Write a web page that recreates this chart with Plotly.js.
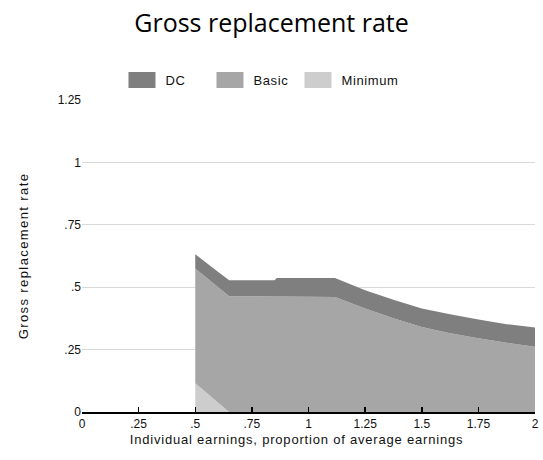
<!DOCTYPE html>
<html>
<head>
<meta charset="utf-8">
<script src="https://cdn.plot.ly/plotly-3.0.1.min.js"></script>
<style>
html,body{margin:0;padding:0;background:#fff;}#chart{width:543px;height:460px;}
#chart .ytitle{letter-spacing:1.4px;}
#chart .xtitle{letter-spacing:0.8px;}
#chart .legendtext{letter-spacing:0.6px;}
</style>
</head>
<body>
<div id="chart"></div>
<script>
// Individual earnings, proportion of average earnings
var earnings = [0.5, 0.55, 0.6, 0.65, 0.75, 0.85, 0.86, 1.0, 1.117, 1.25, 1.375, 1.5, 1.625, 1.75, 1.875, 2.0];
// Stacked components of the gross replacement rate
var minimumRate = [0.115, 0.077, 0.038, 0, 0, 0, 0, 0, 0, 0, 0, 0, 0, 0, 0, 0];
var basicRate   = [0.460, 0.461, 0.463, 0.464, 0.464, 0.463, 0.463, 0.462, 0.461, 0.415, 0.376, 0.341, 0.316, 0.295, 0.277, 0.261];
var dcRate      = [0.057, 0.059, 0.061, 0.064, 0.064, 0.065, 0.074, 0.075, 0.076, 0.073, 0.074, 0.074, 0.076, 0.076, 0.075, 0.078];

var xTickVals = [0, 0.25, 0.5, 0.75, 1, 1.25, 1.5, 1.75, 2];
var xTickText = ["0", ".25", ".5", ".75", "1", "1.25", "1.5", "1.75", "2"];
var yTickVals = [0, 0.25, 0.5, 0.75, 1, 1.25];
var yTickText = ["0", ".25", ".5", ".75", "1", "1.25"];

var tickFont = {family: "Liberation Sans, Arial, sans-serif", size: 12, color: "#111"};

var traces = [
  {x: earnings, y: minimumRate, name: "Minimum", type: "scatter", mode: "none", stackgroup: "one",
   fillcolor: "#cdcdcd", line: {width: 0}, hoverinfo: "x+y+name"},
  {x: earnings, y: basicRate, name: "Basic", type: "scatter", mode: "none", stackgroup: "one",
   fillcolor: "#a6a6a6", line: {width: 0}, hoverinfo: "x+y+name"},
  {x: earnings, y: dcRate, name: "DC", type: "scatter", mode: "none", stackgroup: "one",
   fillcolor: "#7f7f7f", line: {width: 0}, hoverinfo: "x+y+name"}
];

var layout = {
  width: 543, height: 460,
  margin: {l: 82, r: 8, t: 100, b: 48},
  paper_bgcolor: "#fff", plot_bgcolor: "#fff",
  font: tickFont,
  title: {text: "Gross replacement rate", font: {family: "Open Sans, sans-serif", size: 25, color: "#000"},
          x: 0.5, xref: "container", y: 1 - 23/460, yref: "container", yanchor: "middle"},
  showlegend: true,
  legend: {orientation: "h", traceorder: "reversed", x: 0.096, xanchor: "left", y: 1.064, yanchor: "middle",
           font: {family: "Liberation Sans, Arial, sans-serif", size: 13, color: "#111"},
           entrywidth: 43, entrywidthmode: "pixels", bgcolor: "rgba(0,0,0,0)"},
  xaxis: {range: [0, 2], tickvals: xTickVals, ticktext: xTickText, showgrid: false, zeroline: false,
          showline: true, linecolor: "#000", linewidth: 1.5, ticks: "inside", ticklen: 5, tickcolor: "#000",
          tickwidth: 1.5, tickfont: tickFont, fixedrange: true,
          title: {text: "Individual earnings, proportion of average earnings", font: {family: "Liberation Sans, Arial, sans-serif", size: 13, color: "#111"}, standoff: 5}},
  yaxis: {range: [0, 1.25], tickvals: yTickVals, ticktext: yTickText, showgrid: true, gridcolor: "#d9d9d9",
          gridwidth: 1, zeroline: false, showline: false, ticks: "", tickfont: tickFont, fixedrange: true,
          title: {text: "Gross replacement rate", font: {family: "Liberation Sans, Arial, sans-serif", size: 13, color: "#111"}, standoff: 26}}
};

Plotly.newPlot("chart", traces, layout, {displayModeBar: false, staticPlot: true}).then(function (gd) {
  gd.querySelectorAll(".legend .legendfill path").forEach(function (p) {
    p.setAttribute("d", "M3,-8h27v16h-27z");
  });
  gd.querySelectorAll(".legend .scrollbox, .legend").forEach(function (g) {
    g.removeAttribute("clip-path");
    g.style.clipPath = "none";
  });
  var xt = gd.querySelector(".xtitle");
  if (xt) { xt.setAttribute("transform", "translate(-12,0)"); }
});
</script>
</body>
</html>
